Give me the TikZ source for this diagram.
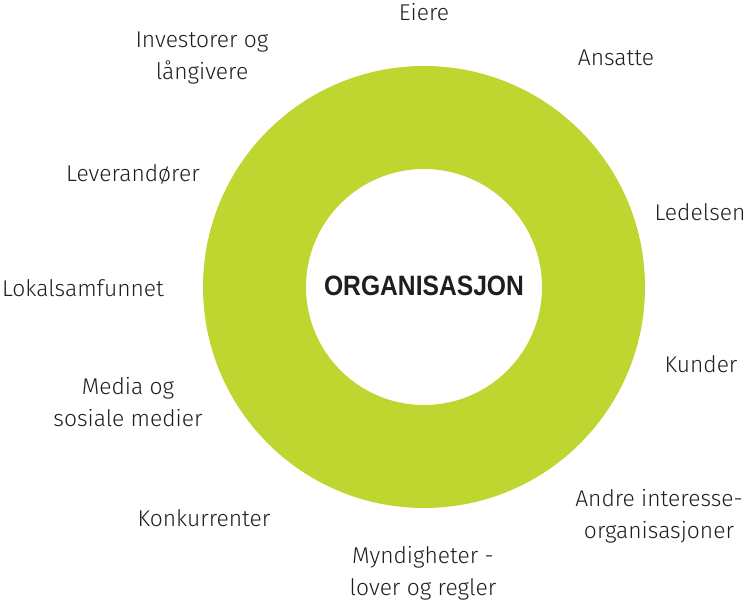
\documentclass[tikz,border=0pt]{standalone}
\usepackage{fontspec}
\setmainfont{Fira Sans Light}
\newfontfamily\orgfont[FakeStretch=0.88]{Liberation Sans Bold}
\definecolor{ringgreen}{RGB}{191,214,48}
\definecolor{textgray}{RGB}{30,30,30}
\tikzset{
	aktor/.style={align=center,text=textgray,font=\fontsize{22.8}{32.5}\selectfont,inner sep=0pt},
	orgtext/.style={text=textgray,font=\orgfont\fontsize{28}{30}\selectfont,inner sep=0pt}
}
\begin{document}
\begin{tikzpicture}[x=1pt,y=-1pt]
\useasboundingbox (0,0) rectangle (750,605);
\node[orgtext] (org) at (424,286) {ORGANISASJON};
\fill [ringgreen, even odd rule] (424,287) circle (221pt) circle (118pt);

\foreach \n/\x/\y/\txt in {eiere/424/12/Eiere, ansatte/616/58/Ansatte, ledelsen/700/212/Ledelsen,
	kunder/701/364/Kunder, andre/659/516/{Andre interesse-\\organisasjoner},
	myndigheter/423/573/{Myndigheter -\\lover og regler}, konkurrenter/204/518/Konkurrenter,
	media/128/402/{Media og\\sosiale medier}, lokal/83/288/Lokalsamfunnet,
	leverandorer/133/174/Leverandører, investorer/202/58/{Investorer og\\långivere}}
	\node[aktor] (\n) at (\x,\y) {\txt};
\end{tikzpicture}
\end{document}
